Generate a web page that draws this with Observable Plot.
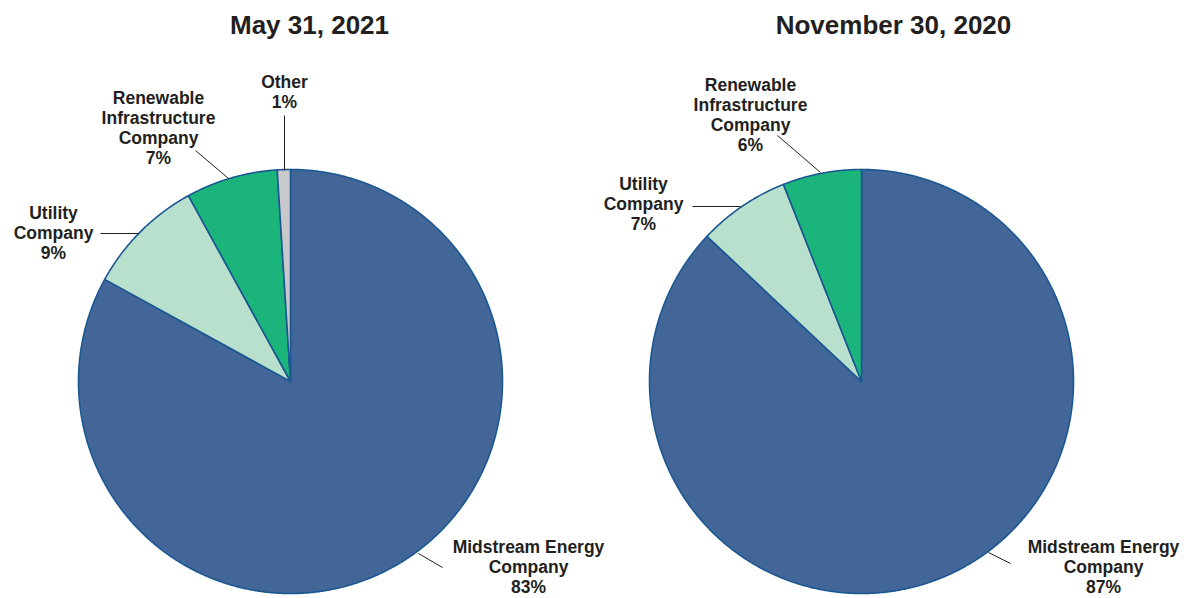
<!DOCTYPE html>
<html><head><meta charset="utf-8">
<script src="https://cdn.jsdelivr.net/npm/d3@7"></script>
<script src="https://cdn.jsdelivr.net/npm/@observablehq/plot@0.6"></script>
<style>html,body{margin:0;padding:0;background:#fff;} #chart svg{display:block}</style>
</head><body><div id="chart"></div>
<script>
// ---- data ----
const categories = ["Midstream Energy Company", "Utility Company", "Renewable Infrastructure Company", "Other"];
const labelLines = ["Midstream Energy\nCompany", "Utility\nCompany", "Renewable\nInfrastructure\nCompany", "Other"];
const periods = ["May 31, 2021", "November 30, 2020"];
const valuesMay2021 = [83, 9, 7, 1];
const valuesNov2020 = [87, 7, 6, 0];
const seriesValues = [valuesMay2021, valuesNov2020];

// ---- layout / style ----
const W = 1186, H = 598, R = 212;
const centers = [[290, 381], [861, 381]];
const colors = ["#436699", "#b9e0cc", "#1bb57b", "#c8c9cb"];
const titlePos = [[309, 25], [893, 25]];
const labelLayout = [
  [ {text: [528, 566], leader: [[442, 567], [418, 553]]},
    {text: [53, 232],  leader: [[100, 233], [138, 233]]},
    {text: [158, 127], leader: [[195, 150], [228, 178]]},
    {text: [284, 91],  leader: [[284, 115], [284, 170]]} ],
  [ {text: [1103, 566], leader: [[1010, 563], [988, 552]]},
    {text: [643, 203],  leader: [[692, 206], [740, 206]]},
    {text: [750, 114],  leader: [[777, 135], [820, 172]]},
    null ]
];
const cx0 = centers[0][0], cy0 = centers[0][1];
const toData = ([px, py]) => [(px - cx0) / R, (cy0 - py) / R];

// ---- derived geometry through d3.pie ----
const pie = d3.pie().sort(null).value(d => d);
const slicePoints = [];
const labels = [];
const leaders = [];
seriesValues.forEach((vals, p) => {
  const [ox, oy] = toData(centers[p]);
  pie(vals).forEach((a, i) => {
    if (vals[i] <= 0) return;
    const id = p + "-" + i;
    slicePoints.push({id, cat: categories[i], x: ox, y: oy});
    const n = Math.max(2, Math.ceil((a.endAngle - a.startAngle) / 0.005));
    for (let k = 0; k <= n; k++) {
      const t = a.startAngle + (a.endAngle - a.startAngle) * k / n;
      slicePoints.push({id, cat: categories[i], x: ox + Math.sin(t), y: oy + Math.cos(t)});
    }
    const L = labelLayout[p][i];
    if (L) {
      const [tx, ty] = toData(L.text);
      labels.push({text: labelLines[i] + "\n" + vals[i] + "%", x: tx, y: ty});
      const [x1, y1] = toData(L.leader[0]);
      const [x2, y2] = toData(L.leader[1]);
      leaders.push({x1, y1, x2, y2});
    }
  });
});
const titles = periods.map((t, p) => { const [x, y] = toData(titlePos[p]); return {text: t, x, y}; });

const font = "'Liberation Sans', Arial, Helvetica, sans-serif";
const chart = Plot.plot({
  width: W, height: H,
  margin: 0,
  x: {domain: [-cx0 / R, (W - cx0) / R], axis: null},
  y: {domain: [-(H - cy0) / R, cy0 / R], axis: null},
  color: {domain: categories, range: colors},
  style: {fontFamily: font, background: "#fff"},
  marks: [
    Plot.line(slicePoints, {x: "x", y: "y", z: "id", fill: "cat", stroke: "#1b5892", strokeWidth: 1.6, curve: "linear-closed", strokeLinejoin: "round"}),
    Plot.link(leaders, {x1: "x1", y1: "y1", x2: "x2", y2: "y2", stroke: "#231f20", strokeWidth: 1}),
    Plot.text(labels, {x: "x", y: "y", text: "text", fontSize: 17.5, fontWeight: "bold", lineHeight: 20 / 17.5, fill: "#231f20", fontFamily: font}),
    Plot.text(titles, {x: "x", y: "y", text: "text", fontSize: 26, fontWeight: "bold", fill: "#231f20", fontFamily: font})
  ]
});
document.getElementById("chart").appendChild(chart);
</script>
</body></html>
